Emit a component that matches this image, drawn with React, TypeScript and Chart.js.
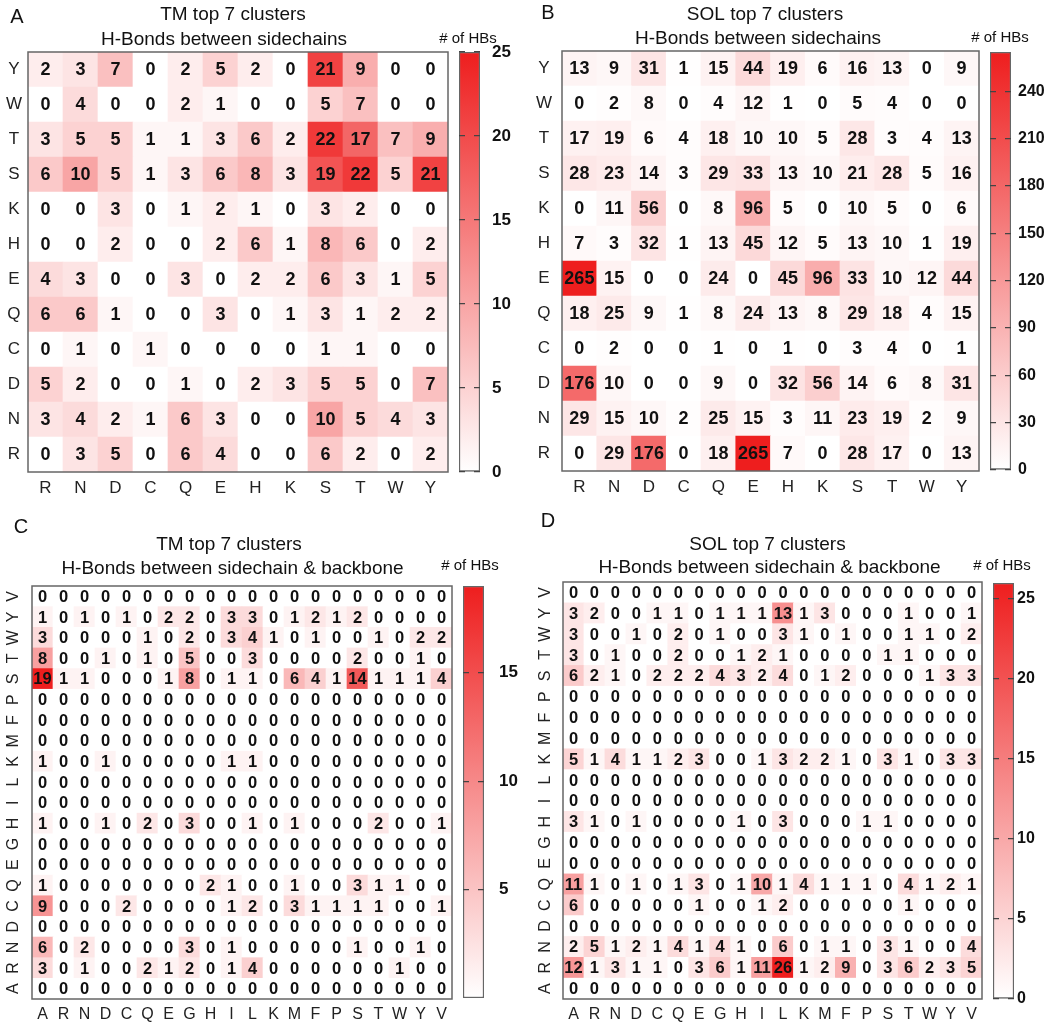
import React, { useEffect, useRef } from 'react';
import { Chart, registerables } from 'chart.js';

Chart.register(...registerables);

const FONT = "'Liberation Sans', Arial, Helvetica, sans-serif";
const RED = [238, 30, 30];

// ---------- data ----------
const sideLabels = ['R', 'N', 'D', 'C', 'Q', 'E', 'H', 'K', 'S', 'T', 'W', 'Y'];
const backboneLabels = ['A', 'R', 'N', 'D', 'C', 'Q', 'E', 'G', 'H', 'I', 'L', 'K', 'M', 'F', 'P', 'S', 'T', 'W', 'Y', 'V'];

// rows listed from top (Y) to bottom (R), columns R..Y
const tmSideValues = [
  [2, 3, 7, 0, 2, 5, 2, 0, 21, 9, 0, 0],
  [0, 4, 0, 0, 2, 1, 0, 0, 5, 7, 0, 0],
  [3, 5, 5, 1, 1, 3, 6, 2, 22, 17, 7, 9],
  [6, 10, 5, 1, 3, 6, 8, 3, 19, 22, 5, 21],
  [0, 0, 3, 0, 1, 2, 1, 0, 3, 2, 0, 0],
  [0, 0, 2, 0, 0, 2, 6, 1, 8, 6, 0, 2],
  [4, 3, 0, 0, 3, 0, 2, 2, 6, 3, 1, 5],
  [6, 6, 1, 0, 0, 3, 0, 1, 3, 1, 2, 2],
  [0, 1, 0, 1, 0, 0, 0, 0, 1, 1, 0, 0],
  [5, 2, 0, 0, 1, 0, 2, 3, 5, 5, 0, 7],
  [3, 4, 2, 1, 6, 3, 0, 0, 10, 5, 4, 3],
  [0, 3, 5, 0, 6, 4, 0, 0, 6, 2, 0, 2],
];

const solSideValues = [
  [13, 9, 31, 1, 15, 44, 19, 6, 16, 13, 0, 9],
  [0, 2, 8, 0, 4, 12, 1, 0, 5, 4, 0, 0],
  [17, 19, 6, 4, 18, 10, 10, 5, 28, 3, 4, 13],
  [28, 23, 14, 3, 29, 33, 13, 10, 21, 28, 5, 16],
  [0, 11, 56, 0, 8, 96, 5, 0, 10, 5, 0, 6],
  [7, 3, 32, 1, 13, 45, 12, 5, 13, 10, 1, 19],
  [265, 15, 0, 0, 24, 0, 45, 96, 33, 10, 12, 44],
  [18, 25, 9, 1, 8, 24, 13, 8, 29, 18, 4, 15],
  [0, 2, 0, 0, 1, 0, 1, 0, 3, 4, 0, 1],
  [176, 10, 0, 0, 9, 0, 32, 56, 14, 6, 8, 31],
  [29, 15, 10, 2, 25, 15, 3, 11, 23, 19, 2, 9],
  [0, 29, 176, 0, 18, 265, 7, 0, 28, 17, 0, 13],
];

// rows listed from top (V) to bottom (A), columns A..V
const tmBackboneValues = [
  [0, 0, 0, 0, 0, 0, 0, 0, 0, 0, 0, 0, 0, 0, 0, 0, 0, 0, 0, 0],
  [1, 0, 1, 0, 1, 0, 2, 2, 0, 3, 3, 0, 1, 2, 1, 2, 0, 0, 0, 0],
  [3, 0, 0, 0, 0, 1, 0, 2, 0, 3, 4, 1, 0, 1, 0, 0, 1, 0, 2, 2],
  [8, 0, 0, 1, 0, 1, 0, 5, 0, 0, 3, 0, 0, 0, 0, 2, 0, 0, 1, 0],
  [19, 1, 1, 0, 0, 0, 1, 8, 0, 1, 1, 0, 6, 4, 1, 14, 1, 1, 1, 4],
  [0, 0, 0, 0, 0, 0, 0, 0, 0, 0, 0, 0, 0, 0, 0, 0, 0, 0, 0, 0],
  [0, 0, 0, 0, 0, 0, 0, 0, 0, 0, 0, 0, 0, 0, 0, 0, 0, 0, 0, 0],
  [0, 0, 0, 0, 0, 0, 0, 0, 0, 0, 0, 0, 0, 0, 0, 0, 0, 0, 0, 0],
  [1, 0, 0, 1, 0, 0, 0, 0, 0, 1, 1, 0, 0, 0, 0, 0, 0, 0, 0, 0],
  [0, 0, 0, 0, 0, 0, 0, 0, 0, 0, 0, 0, 0, 0, 0, 0, 0, 0, 0, 0],
  [0, 0, 0, 0, 0, 0, 0, 0, 0, 0, 0, 0, 0, 0, 0, 0, 0, 0, 0, 0],
  [1, 0, 0, 1, 0, 2, 0, 3, 0, 0, 1, 0, 1, 0, 0, 0, 2, 0, 0, 1],
  [0, 0, 0, 0, 0, 0, 0, 0, 0, 0, 0, 0, 0, 0, 0, 0, 0, 0, 0, 0],
  [0, 0, 0, 0, 0, 0, 0, 0, 0, 0, 0, 0, 0, 0, 0, 0, 0, 0, 0, 0],
  [1, 0, 0, 0, 0, 0, 0, 0, 2, 1, 0, 0, 1, 0, 0, 3, 1, 1, 0, 0],
  [9, 0, 0, 0, 2, 0, 0, 0, 0, 1, 2, 0, 3, 1, 1, 1, 1, 0, 0, 1],
  [0, 0, 0, 0, 0, 0, 0, 0, 0, 0, 0, 0, 0, 0, 0, 0, 0, 0, 0, 0],
  [6, 0, 2, 0, 0, 0, 0, 3, 0, 1, 0, 0, 0, 0, 0, 1, 0, 0, 1, 0],
  [3, 0, 1, 0, 0, 2, 1, 2, 0, 1, 4, 0, 0, 0, 0, 0, 0, 1, 0, 0],
  [0, 0, 0, 0, 0, 0, 0, 0, 0, 0, 0, 0, 0, 0, 0, 0, 0, 0, 0, 0],
];

const solBackboneValues = [
  [0, 0, 0, 0, 0, 0, 0, 0, 0, 0, 0, 0, 0, 0, 0, 0, 0, 0, 0, 0],
  [3, 2, 0, 0, 1, 1, 0, 1, 1, 1, 13, 1, 3, 0, 0, 0, 1, 0, 0, 1],
  [3, 0, 0, 1, 0, 2, 0, 1, 0, 0, 3, 1, 0, 1, 0, 0, 1, 1, 0, 2],
  [3, 0, 1, 0, 0, 2, 0, 0, 1, 2, 1, 0, 0, 0, 0, 1, 1, 0, 0, 0],
  [6, 2, 1, 0, 2, 2, 2, 4, 3, 2, 4, 0, 1, 2, 0, 0, 0, 1, 3, 3],
  [0, 0, 0, 0, 0, 0, 0, 0, 0, 0, 0, 0, 0, 0, 0, 0, 0, 0, 0, 0],
  [0, 0, 0, 0, 0, 0, 0, 0, 0, 0, 0, 0, 0, 0, 0, 0, 0, 0, 0, 0],
  [0, 0, 0, 0, 0, 0, 0, 0, 0, 0, 0, 0, 0, 0, 0, 0, 0, 0, 0, 0],
  [5, 1, 4, 1, 1, 2, 3, 0, 0, 1, 3, 2, 2, 1, 0, 3, 1, 0, 3, 3],
  [0, 0, 0, 0, 0, 0, 0, 0, 0, 0, 0, 0, 0, 0, 0, 0, 0, 0, 0, 0],
  [0, 0, 0, 0, 0, 0, 0, 0, 0, 0, 0, 0, 0, 0, 0, 0, 0, 0, 0, 0],
  [3, 1, 0, 1, 0, 0, 0, 0, 1, 0, 3, 0, 0, 0, 1, 1, 0, 0, 0, 0],
  [0, 0, 0, 0, 0, 0, 0, 0, 0, 0, 0, 0, 0, 0, 0, 0, 0, 0, 0, 0],
  [0, 0, 0, 0, 0, 0, 0, 0, 0, 0, 0, 0, 0, 0, 0, 0, 0, 0, 0, 0],
  [11, 1, 0, 1, 0, 1, 3, 0, 1, 10, 1, 4, 1, 1, 1, 0, 4, 1, 2, 1],
  [6, 0, 0, 0, 0, 0, 1, 0, 0, 1, 2, 0, 0, 0, 0, 0, 1, 0, 0, 0],
  [0, 0, 0, 0, 0, 0, 0, 0, 0, 0, 0, 0, 0, 0, 0, 0, 0, 0, 0, 0],
  [2, 5, 1, 2, 1, 4, 1, 4, 1, 0, 6, 0, 1, 1, 0, 3, 1, 0, 0, 4],
  [12, 1, 3, 1, 1, 0, 3, 6, 1, 11, 26, 1, 2, 9, 0, 3, 6, 2, 3, 5],
  [0, 0, 0, 0, 0, 0, 0, 0, 0, 0, 0, 0, 0, 0, 0, 0, 0, 0, 0, 0],
];

const tmSideMax = 25;
const solSideMax = 265;
const tmBackboneMax = 19;
const solBackboneMax = 26;

const tmSideTicks = [0, 5, 10, 15, 20, 25];
const solSideTicks = [0, 30, 60, 90, 120, 150, 180, 210, 240];
const tmBackboneTicks = [5, 10, 15];
const solBackboneTicks = [0, 5, 10, 15, 20, 25];

const titleTop = ['TM top 7 clusters', 'SOL top 7 clusters'];
const titleSide = 'H-Bonds between sidechains';
const titleBackbone = 'H-Bonds between sidechain & backbone';
const barTitle = '# of HBs';

// ---------- helpers ----------
function heatColor(v: number, max: number) {
  const t = Math.max(0, Math.min(1, v / max));
  const c = RED.map((e) => Math.round(255 + (e - 255) * t));
  return `rgb(${c[0]},${c[1]},${c[2]})`;
}

type TextItem = { text: string; x: number; y: number; size: number; bold?: boolean; align?: CanvasTextAlign };
type Box = { left: number; top: number; width: number; height: number };
type Area = { l: number; t: number; r: number; b: number };

const textPlugin = {
  id: 'pageTexts',
  afterDraw(chart: any, _args: any, opts: any) {
    const items: TextItem[] = opts.items || [];
    const box: Box = opts.box;
    const ctx = chart.ctx;
    ctx.save();
    items.forEach((it) => {
      ctx.font = `${it.bold ? 'bold ' : ''}${it.size}px ${FONT}`;
      ctx.fillStyle = '#111';
      ctx.textAlign = it.align || 'center';
      ctx.textBaseline = 'alphabetic';
      ctx.fillText(it.text, it.x - box.left, it.y - box.top);
    });
    ctx.restore();
  },
};

const framePlugin = {
  id: 'frame',
  afterDatasetsDraw(chart: any) {
    const { ctx, chartArea } = chart;
    ctx.save();
    ctx.strokeStyle = '#666';
    ctx.lineWidth = 1.5;
    ctx.strokeRect(chartArea.left, chartArea.top, chartArea.right - chartArea.left, chartArea.bottom - chartArea.top);
    ctx.restore();
  },
};

const cellTextPlugin = {
  id: 'cellText',
  afterDatasetsDraw(chart: any, _args: any, opts: any) {
    const ctx = chart.ctx;
    ctx.save();
    ctx.font = `bold ${opts.size}px ${FONT}`;
    ctx.fillStyle = '#111';
    ctx.textAlign = 'center';
    ctx.textBaseline = 'middle';
    chart.data.datasets.forEach((ds: any, d: number) => {
      const meta = chart.getDatasetMeta(d);
      meta.data.forEach((el: any, j: number) => {
        const cy = (el.y + el.base) / 2;
        ctx.fillText(String(ds.values[j]), el.x, cy + (opts.dy || 0));
      });
    });
    ctx.restore();
  },
};

type HeatProps = {
  box: Box;
  area: Area;
  xLabels: string[];
  yLabels: string[];
  rowsTopDown: number[][];
  max: number;
  cellFont: number;
  axisFont: number;
  rotateY: boolean;
  xPad: number;
  yPad: number;
  texts: TextItem[];
};

function Heatmap(p: HeatProps) {
  const ref = useRef<HTMLCanvasElement | null>(null);
  useEffect(() => {
    const n = p.yLabels.length;
    const rowsBottomUp = p.rowsTopDown.slice().reverse();
    const datasets = rowsBottomUp.map((row, r) => ({
      label: p.yLabels[r],
      data: row.map(() => [r - 0.5, r + 0.5]),
      values: row,
      backgroundColor: row.map((v) => heatColor(v, p.max)),
      borderWidth: 0,
      barPercentage: 1,
      categoryPercentage: 1,
      grouped: false,
    }));
    const chart = new Chart(ref.current as HTMLCanvasElement, {
      type: 'bar',
      data: { labels: p.xLabels, datasets: datasets as any },
      plugins: [framePlugin, cellTextPlugin, textPlugin],
      options: {
        animation: false,
        responsive: false,
        maintainAspectRatio: false,
        events: [],
        layout: {
          padding: {
            left: 0,
            top: p.area.t - p.box.top,
            right: p.box.left + p.box.width - p.area.r,
            bottom: 0,
          },
        },
        plugins: {
          legend: { display: false },
          tooltip: { enabled: false },
          cellText: { size: p.cellFont, dy: 1 },
          pageTexts: { items: p.texts, box: p.box },
        } as any,
        scales: {
          x: {
            type: 'category',
            offset: true,
            grid: { display: false, drawTicks: false },
            border: { display: false },
            ticks: {
              autoSkip: false,
              minRotation: 0,
              maxRotation: 0,
              padding: p.xPad,
              color: '#222',
              font: { family: FONT, size: p.axisFont },
            },
            afterFit: (s: any) => {
              s.height = p.box.top + p.box.height - p.area.b;
            },
          },
          y: {
            type: 'linear',
            min: -0.5,
            max: n - 0.5,
            grid: { display: false, drawTicks: false },
            border: { display: false },
            afterBuildTicks: (s: any) => {
              s.ticks = p.yLabels.map((_, i) => ({ value: i }));
            },
            ticks: {
              autoSkip: false,
              crossAlign: 'center',
              padding: p.yPad,
              minRotation: p.rotateY ? 90 : 0,
              maxRotation: p.rotateY ? 90 : 0,
              color: '#222',
              font: { family: FONT, size: p.axisFont },
              callback: (v: any) => p.yLabels[Math.round(Number(v))] ?? '',
            },
            afterFit: (s: any) => {
              s.width = p.area.l - p.box.left;
            },
          } as any,
        },
      },
    });
    return () => chart.destroy();
  }, []);
  return (
    <canvas
      ref={ref}
      width={p.box.width}
      height={p.box.height}
      style={{ position: 'absolute', left: p.box.left, top: p.box.top, width: p.box.width, height: p.box.height }}
    />
  );
}

type BarProps = {
  box: Box;
  bar: Area;
  max: number;
  ticks: number[];
  labelPad: number;
  labelFont: number;
  texts: TextItem[];
};

function ColorBar(p: BarProps) {
  const ref = useRef<HTMLCanvasElement | null>(null);
  useEffect(() => {
    const chart = new Chart(ref.current as HTMLCanvasElement, {
      type: 'bar',
      data: {
        labels: [''],
        datasets: [
          {
            data: [[0, p.max]] as any,
            backgroundColor: (c: any) => {
              const ch = c.chart;
              if (!ch.chartArea) return 'rgba(0,0,0,0)';
              const y0 = ch.scales.y.getPixelForValue(0);
              const y1 = ch.scales.y.getPixelForValue(p.max);
              const g = ch.ctx.createLinearGradient(0, y0, 0, y1);
              g.addColorStop(0, heatColor(0, p.max));
              g.addColorStop(1, heatColor(p.max, p.max));
              return g;
            },
            borderColor: '#666',
            borderWidth: 1.5,
            borderSkipped: false,
            barPercentage: 1,
            categoryPercentage: 1,
          },
        ],
      },
      plugins: [textPlugin],
      options: {
        animation: false,
        responsive: false,
        maintainAspectRatio: false,
        events: [],
        layout: {
          padding: {
            left: p.bar.l - p.box.left,
            top: p.bar.t - p.box.top,
            right: 0,
            bottom: p.box.top + p.box.height - p.bar.b,
          },
        },
        plugins: {
          legend: { display: false },
          tooltip: { enabled: false },
          pageTexts: { items: p.texts, box: p.box },
        } as any,
        scales: {
          x: { display: false },
          y: {
            type: 'linear',
            position: 'right',
            min: 0,
            max: p.max,
            afterBuildTicks: (s: any) => {
              s.ticks = p.ticks.map((v) => ({ value: v }));
            },
            grid: {
              drawTicks: false,
              color: '#444',
              lineWidth: 1.2,
              z: 1,
            },
            border: { display: false, dash: [6, 9] },
            ticks: {
              padding: p.labelPad,
              color: '#111',
              font: { family: FONT, size: p.labelFont, weight: 'bold' },
            },
            afterFit: (s: any) => {
              s.width = p.box.left + p.box.width - p.bar.r;
            },
          } as any,
        },
      },
    });
    return () => chart.destroy();
  }, []);
  return (
    <canvas
      ref={ref}
      width={p.box.width}
      height={p.box.height}
      style={{ position: 'absolute', left: p.box.left, top: p.box.top, width: p.box.width, height: p.box.height }}
    />
  );
}

export default function App() {
  return (
    <div
      style={{
        position: 'absolute',
        left: 0,
        top: 0,
        width: 1050,
        height: 1025,
        background: '#fff',
        overflow: 'hidden',
      }}
    >
      <Heatmap
        box={{ left: 0, top: 0, width: 455, height: 500 }}
        area={{ l: 28, t: 52, r: 448, b: 472 }}
        xLabels={sideLabels}
        yLabels={sideLabels}
        rowsTopDown={tmSideValues}
        max={tmSideMax}
        cellFont={18}
        axisFont={17}
        rotateY={false}
        xPad={6}
        yPad={6}
        texts={[
          { text: 'A', x: 17, y: 23, size: 20 },
          { text: titleTop[0], x: 233, y: 20, size: 19 },
          { text: titleSide, x: 224, y: 44.5, size: 19 },
        ]}
      />
      <ColorBar
        box={{ left: 420, top: 0, width: 105, height: 500 }}
        bar={{ l: 459, t: 52, r: 480, b: 472 }}
        max={tmSideMax}
        ticks={tmSideTicks}
        labelPad={12}
        labelFont={17}
        texts={[{ text: barTitle, x: 468, y: 43, size: 15 }]}
      />
      <Heatmap
        box={{ left: 525, top: 0, width: 460, height: 500 }}
        area={{ l: 562, t: 51, r: 979, b: 471 }}
        xLabels={sideLabels}
        yLabels={sideLabels}
        rowsTopDown={solSideValues}
        max={solSideMax}
        cellFont={18}
        axisFont={17}
        rotateY={false}
        xPad={6}
        yPad={10}
        texts={[
          { text: 'B', x: 548, y: 19, size: 20 },
          { text: titleTop[1], x: 765, y: 19.5, size: 19 },
          { text: titleSide, x: 758, y: 44, size: 19 },
        ]}
      />
      <ColorBar
        box={{ left: 950, top: 0, width: 100, height: 500 }}
        bar={{ l: 990, t: 52, r: 1011, b: 470 }}
        max={solSideMax}
        ticks={solSideTicks}
        labelPad={7}
        labelFont={16}
        texts={[{ text: barTitle, x: 1000, y: 42, size: 15 }]}
      />
      <Heatmap
        box={{ left: 0, top: 505, width: 457, height: 520 }}
        area={{ l: 32, t: 586, r: 452, b: 999 }}
        xLabels={backboneLabels}
        yLabels={backboneLabels}
        rowsTopDown={tmBackboneValues}
        max={tmBackboneMax}
        cellFont={16.5}
        axisFont={16}
        rotateY={true}
        xPad={6}
        yPad={11}
        texts={[
          { text: 'C', x: 21, y: 533, size: 20 },
          { text: titleTop[0], x: 229, y: 550, size: 19 },
          { text: titleBackbone, x: 232.5, y: 573.5, size: 19 },
        ]}
      />
      <ColorBar
        box={{ left: 420, top: 505, width: 105, height: 520 }}
        bar={{ l: 463, t: 586, r: 484, b: 998 }}
        max={tmBackboneMax}
        ticks={tmBackboneTicks}
        labelPad={15}
        labelFont={17}
        texts={[{ text: barTitle, x: 470, y: 570, size: 15 }]}
      />
      <Heatmap
        box={{ left: 525, top: 505, width: 462, height: 520 }}
        area={{ l: 563, t: 582, r: 982, b: 999 }}
        xLabels={backboneLabels}
        yLabels={backboneLabels}
        rowsTopDown={solBackboneValues}
        max={solBackboneMax}
        cellFont={16.5}
        axisFont={16}
        rotateY={true}
        xPad={6}
        yPad={10}
        texts={[
          { text: 'D', x: 548, y: 527, size: 20 },
          { text: titleTop[1], x: 767.5, y: 550, size: 19 },
          { text: titleBackbone, x: 769.5, y: 573, size: 19 },
        ]}
      />
      <ColorBar
        box={{ left: 950, top: 505, width: 100, height: 520 }}
        bar={{ l: 993, t: 583, r: 1014, b: 999 }}
        max={solBackboneMax}
        ticks={solBackboneTicks}
        labelPad={3}
        labelFont={16}
        texts={[{ text: barTitle, x: 1002, y: 570, size: 15 }]}
      />
    </div>
  );
}
